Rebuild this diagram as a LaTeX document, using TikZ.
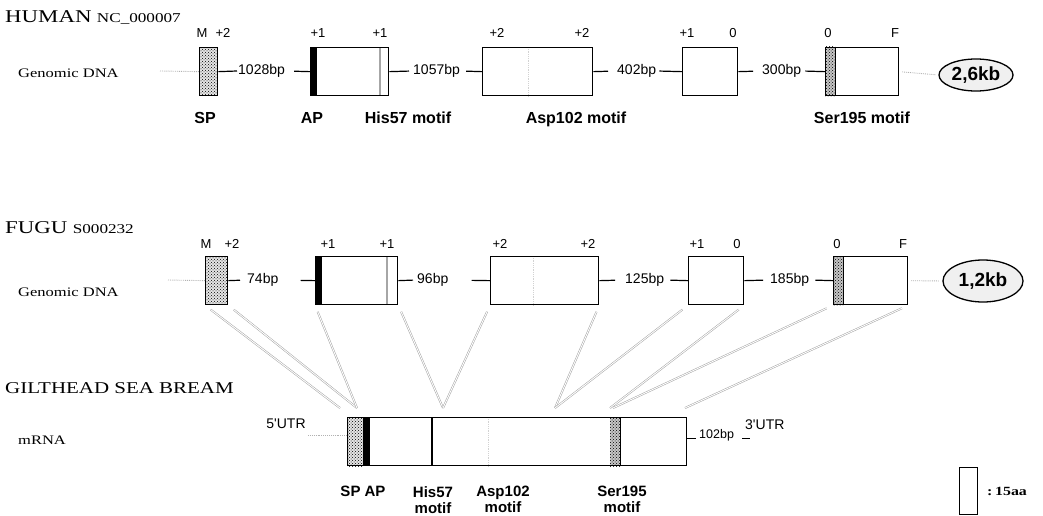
\documentclass[tikz,border=0pt]{standalone}
\usepackage{fontspec}
\setmainfont{Liberation Serif}
\setsansfont{Liberation Sans}
\usepackage{graphicx}
\usetikzlibrary{shapes.geometric,patterns,positioning,backgrounds}
\newcommand{\widen}[1]{\scalebox{1.27}[1]{#1}}

\begin{document}
\begin{tikzpicture}[x=1pt,y=-1pt,
  exon/.style={draw,line width=1.3pt,anchor=north west,inner sep=0pt,minimum height=48pt},
  spbox/.style={exon,fill=gray!20,postaction={pattern=crosshatch dots}},
  intron/.style={line width=1.2pt},
  lead/.style={densely dotted,line width=0.9pt,gray!60},
  link/.style={draw=gray!40!black!45,line width=0.5pt,double=white,double distance=0.9pt,shorten <=7pt},
  bp/.style={font=\sffamily\fontsize{14}{14}\selectfont,inner sep=1pt,anchor=west},
  frm/.style={font=\sffamily\fontsize{13}{13}\selectfont,anchor=base,inner sep=0pt},
  motif/.style={font=\sffamily\bfseries\fontsize{16}{16}\selectfont,anchor=base,inner sep=0pt},
  mlab/.style={font=\sffamily\bfseries\fontsize{15}{16}\selectfont,anchor=north,inner sep=0pt,align=center},
  kb/.style={ellipse,draw,line width=1.3pt,fill=gray!12,inner sep=0pt,font=\sffamily\bfseries\fontsize{19}{19}\selectfont},
  ttl/.style={anchor=base west,inner sep=0pt,font=\fontsize{18}{18}\selectfont},
  acc/.style={anchor=base west,inner sep=0pt,font=\fontsize{13.5}{13.5}\selectfont},
  side/.style={anchor=base west,inner sep=0pt,font=\fontsize{13}{13}\selectfont}
]
\useasboundingbox (0,0) rectangle (1043,516);

% human
\node[ttl] (htitle) at (5,23) {\widen{HUMAN}};
\node[acc] (hacc) at ([xshift=5pt]htitle.base east) {\widen{NC\_000007}};
\node[side] (hgen) at (18,78) {\widen{Genomic DNA}};

\node[spbox,minimum width=18pt] (h1) at (199,47) {};
\node[exon,minimum width=78pt] (h2) at (310,47) {};
\node[exon,minimum width=110pt] (h3) at (482,47) {};
\node[exon,minimum width=55pt] (h4) at (682,47) {};
\node[exon,minimum width=73pt] (h5) at (825,47) {};

\begin{scope}[on background layer]
\fill (h2.north west) rectangle ([xshift=7pt]h2.south west);
\draw[gray!70,line width=1.6pt] ([xshift=70pt]h2.north west) -- ([xshift=70pt]h2.south west);
\draw[gray!35,densely dotted,line width=0.8pt] ([xshift=46pt]h3.north west) -- ([xshift=46pt]h3.south west);
\fill[gray!45] (h5.north west) rectangle ([xshift=10pt]h5.south west);
\fill[pattern=crosshatch dots] (h5.north west) rectangle ([xshift=10pt]h5.south west);
\draw[line width=1pt] ([xshift=10pt]h5.north west) -- ([xshift=10pt]h5.south west);
\end{scope}

\node[frm] (hf1a) at (202,38) {M};
\node[frm] (hf1b) at (223,38) {+2};
\node[frm] (hf2a) at (318,38) {+1};
\node[frm] (hf2b) at (380,38) {+1};
\node[frm] (hf3a) at (497,38) {+2};
\node[frm] (hf3b) at (582,38) {+2};
\node[frm] (hf4a) at (687,38) {+1};
\node[frm] (hf4b) at (733,38) {0};
\node[frm] (hf5a) at (828,38) {0};
\node[frm] (hf5b) at (895,38) {F};

\node[bp] (hi1) at (237,71) {1028bp};
\node[bp] (hi2) at (412,71) {1057bp};
\node[bp] (hi3) at (616,71) {402bp};
\node[bp] (hi4) at (761,71) {300bp};
\draw[intron] (h1.east) -- (hi1.west);
\draw[intron,shorten <=8pt] (hi1.east) -- (h2.west);
\draw[intron,shorten >=3pt] (h2.east) -- (hi2.west);
\draw[intron,shorten <=5pt] (hi2.east) -- (h3.west);
\draw[intron,shorten >=8pt] (h3.east) -- (hi3.west);
\draw[intron,shorten <=2pt] (hi3.east) -- (h4.west);
\draw[intron,shorten >=8pt] (h4.east) -- (hi4.west);
\draw[intron,shorten <=3pt] (hi4.east) -- (h5.west);

\coordinate (h0) at (160,71);
\node[kb,minimum width=74pt,minimum height=32pt] (hkb) at (976,75) {2,6kb};
\draw[lead] (h0) -- (h1.west);
\draw[lead,shorten <=3pt,shorten >=3pt] (h5.east) -- (hkb.west);

\node[motif] (hsp) at (205,124) {SP};
\node[motif] (hap) at (312,124) {AP};
\node[motif] (hhis) at (408,124) {His57 motif};
\node[motif] (hasp) at (576,124) {Asp102 motif};
\node[motif] (hser) at (862,124) {Ser195 motif};

% fugu
\node[ttl] (ftitle) at (5,233) {\widen{FUGU}};
\node[acc] (facc) at ([xshift=5pt]ftitle.base east) {\widen{S000232}};
\node[side] (fgen) at (18,296) {\widen{Genomic DNA}};

\node[spbox,minimum width=22pt] (f1) at (205,256) {};
\node[exon,minimum width=82pt] (f2) at (315,256) {};
\node[exon,minimum width=108pt] (f3) at (490,256) {};
\node[exon,minimum width=55pt] (f4) at (688,256) {};
\node[exon,minimum width=74pt] (f5) at (833,256) {};

\begin{scope}[on background layer]
\fill (f2.north west) rectangle ([xshift=7pt]f2.south west);
\draw[gray!70,line width=1.6pt] ([xshift=72pt]f2.north west) -- ([xshift=72pt]f2.south west);
\draw[gray!35,densely dotted,line width=0.8pt] ([xshift=43pt]f3.north west) -- ([xshift=43pt]f3.south west);
\fill[gray!45] (f5.north west) rectangle ([xshift=10pt]f5.south west);
\fill[pattern=crosshatch dots] (f5.north west) rectangle ([xshift=10pt]f5.south west);
\draw[line width=1pt] ([xshift=10pt]f5.north west) -- ([xshift=10pt]f5.south west);
\end{scope}

\node[frm] (ff1a) at (206,248) {M};
\node[frm] (ff1b) at (232,248) {+2};
\node[frm] (ff2a) at (328,248) {+1};
\node[frm] (ff2b) at (387,248) {+1};
\node[frm] (ff3a) at (500,248) {+2};
\node[frm] (ff3b) at (588,248) {+2};
\node[frm] (ff4a) at (697,248) {+1};
\node[frm] (ff4b) at (737,248) {0};
\node[frm] (ff5a) at (837,248) {0};
\node[frm] (ff5b) at (903,248) {F};

\node[bp] (fi1) at (246,280) {74bp};
\node[bp] (fi2) at (416,280) {96bp};
\node[bp] (fi3) at (624,280) {125bp};
\node[bp] (fi4) at (769,280) {185bp};
\draw[intron,shorten >=6pt] (f1.east) -- (fi1.west);
\draw[intron,shorten <=21pt] (fi1.east) -- (f2.west);
\draw[intron,shorten >=3pt] (f2.east) -- (fi2.west);
\draw[intron,shorten <=22pt] (fi2.east) -- (f3.west);
\draw[intron,shorten >=9pt] (f3.east) -- (fi3.west);
\draw[intron,shorten <=5pt] (fi3.east) -- (f4.west);
\draw[intron,shorten >=6pt] (f4.east) -- (fi4.west);
\draw[intron,shorten <=5pt] (fi4.east) -- (f5.west);

\coordinate (f0) at (168,280);
\node[kb,minimum width=80pt,minimum height=42pt] (fkb) at (983,281) {1,2kb};
\draw[lead] (f0) -- (f1.west);
\draw[lead,shorten <=3pt,shorten >=3pt] (f5.east) -- (fkb.west);

% sea bream mRNA
\node[ttl,font=\fontsize{16.5}{16.5}\selectfont] (gtitle) at (5,393) {\widen{GILTHEAD SEA BREAM}};
\node[side] (mrna) at (18,444) {\widen{mRNA}};

\node[exon,minimum width=339pt] (m) at (347,417) {};
\begin{scope}[on background layer]
\fill[gray!20] (m.north west) rectangle ([xshift=16pt]m.south west);
\fill[pattern=crosshatch dots] (m.north west) rectangle ([xshift=16pt]m.south west);
\fill ([xshift=16pt]m.north west) rectangle ([xshift=23pt]m.south west);
\draw[line width=1.5pt] ([xshift=85pt]m.north west) -- ([xshift=85pt]m.south west);
\draw[gray!35,densely dotted,line width=0.8pt] ([xshift=141pt]m.north west) -- ([xshift=141pt]m.south west);
\fill[gray!45] ([xshift=263pt]m.north west) rectangle ([xshift=273pt]m.south west);
\fill[pattern=crosshatch dots] ([xshift=263pt]m.north west) rectangle ([xshift=273pt]m.south west);
\draw[line width=1pt] ([xshift=273pt]m.north west) -- ([xshift=273pt]m.south west);
\end{scope}

\coordinate (t1) at (340,408);
\coordinate (t2) at (357,408);
\coordinate (t3) at (443,408);
\coordinate (t4) at (555,408);
\coordinate (t5) at (610,408);
\coordinate (t6) at (613,408);
\coordinate (t7) at (685,408);
\draw[link] (f1.south west) -- (t1);
\draw[link] (f1.south east) -- (t2);
\draw[link] (f2.south west) -- (t2);
\draw[link] (f2.south east) -- (t3);
\draw[link] (f3.south west) -- (t3);
\draw[link] (f3.south east) -- (t4);
\draw[link] (f4.south west) -- (t4);
\draw[link] (f4.south east) -- (t5);
\draw[link] (f5.south west) -- (t6);
\draw[link] (f5.south east) -- (t7);

\node[frm,font=\sffamily\fontsize{14}{14}\selectfont] (u5) at (286,428) {5\textquotesingle UTR};
\coordinate (u5s) at (308,435);
\draw[lead] (u5s) -- (u5s -| m.west);
\node[frm,anchor=base west,font=\sffamily\fontsize{12.5}{12.5}\selectfont] (b102) at (699,438) {102bp};
\draw[line width=1pt,shorten >=3pt] (m.east |- b102.base) -- (b102.base west);
\draw[line width=1pt] ([xshift=8pt]b102.base east) -- ([xshift=16pt]b102.base east);
\node[frm,anchor=base west,font=\sffamily\fontsize{14}{14}\selectfont] (u3) at (745,429) {3\textquotesingle UTR};

\node[mlab] (msp) at (363,486) {SP AP};
\node[mlab] (mhis) at (433,486) {His57\\motif};
\node[mlab] (masp) at (503,486) {Asp102\\motif};
\node[mlab] (mser) at (622,486) {Ser195\\motif};

% legend
\node[draw,line width=1pt,minimum width=18pt,minimum height=47pt,anchor=north west,inner sep=0pt] (leg) at (959,467) {};
\node[right=9pt of leg,inner sep=0pt,font=\bfseries\fontsize{12.5}{12.5}\selectfont] (legt) {\widen{:\,15aa}};
\end{tikzpicture}
\end{document}
